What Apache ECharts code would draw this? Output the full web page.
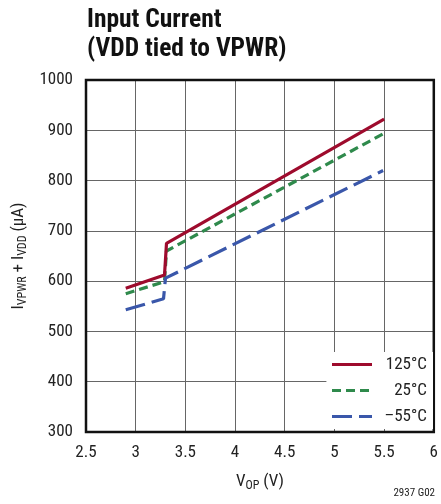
<!DOCTYPE html>
<html><head><meta charset="utf-8">
<script src="https://cdn.jsdelivr.net/npm/echarts@6/dist/echarts.min.js"></script>
<style>html,body{margin:0;padding:0;background:#fff}#c{width:441px;height:504px}</style>
</head><body><div id="c"></div>
<script>
const xTicks = [2.5, 3, 3.5, 4, 4.5, 5, 5.5, 6];
const yTicks = [300, 400, 500, 600, 700, 800, 900, 1000];
const seriesNames = ['125°C', '25°C', '–55°C'];
const hot_x = [2.9, 3.29, 3.31, 5.5];
const hot_y = [586, 612, 675, 922];
const room_x = [2.9, 3.29, 3.31, 5.5];
const room_y = [575, 599, 660, 894];
const cold_x = [2.9, 3.28, 3.3, 5.49];
const cold_y = [543, 565, 606, 820];

const font = 'Liberation Sans Narrow, Roboto Condensed, DejaVu Sans Condensed, Liberation Sans, sans-serif';
const pair = (xs, ys) => xs.map((x, i) => [x, ys[i]]);
const colors = ['#9e0b2d', '#2f8a4c', '#3a57aa'];
const dashes = ['solid', [9, 5], [20, 7]];
const chart = echarts.init(document.getElementById('c'), null, {renderer: 'canvas'});
chart.setOption({
  animation: false,
  backgroundColor: '#fff',
  title: {
    text: 'Input Current\n(VDD tied to VPWR)',
    left: 87, top: 6, padding: 0,
    textStyle: {fontFamily: font, fontWeight: 'bold', fontSize: 25.5, lineHeight: 29, color: '#111'}
  },
  grid: {left: 86, right: 4, top: 80, bottom: 72},
  xAxis: {
    type: 'value', min: 2.5, max: 6, interval: 0.5,
    axisLine: {show: false},
    axisTick: {show: false},
    axisLabel: {fontFamily: font, fontSize: 17, color: '#222', margin: 12,
      formatter: v => xTicks.includes(v) ? String(v) : ''},
    splitLine: {show: true, lineStyle: {color: '#666', width: 1}},
    name: '{a|V}{s|OP}{a| (V)}', nameLocation: 'middle', nameGap: 40,
    nameTextStyle: {rich: {a: {fontFamily: font, fontSize: 17, color: '#222'},
      s: {fontFamily: font, fontSize: 12, color: '#222', padding: [8, 0, 0, 0]}}}
  },
  yAxis: {
    type: 'value', min: 300, max: 1000, interval: 100,
    axisLine: {show: false},
    axisTick: {show: false},
    axisLabel: {fontFamily: font, fontSize: 17, color: '#222', margin: 13,
      formatter: v => yTicks.includes(v) ? String(v) : ''},
    splitLine: {show: true, lineStyle: {color: '#666', width: 1}},
    name: '{a|I}{s|VPWR}{a| + I}{s|VDD}{a| (µA)}', nameLocation: 'middle', nameGap: 54,
    nameTextStyle: {rich: {a: {fontFamily: font, fontSize: 17, color: '#222'},
      s: {fontFamily: font, fontSize: 12, color: '#222', padding: [8, 0, 0, 0]}}}
  },
  legend: {
    right: 8, top: 352, orient: 'vertical', align: 'left',
    backgroundColor: '#fff', padding: [4, 6, 4, 4],
    itemWidth: 40, itemHeight: 14, itemGap: 9,
    formatter: n => '{r|' + n + '}',
    textStyle: {fontFamily: font, fontSize: 17, color: '#222',
      rich: {r: {fontFamily: font, fontSize: 17, color: '#222', width: 50, align: 'right', padding: [0, 0, 0, 0]}}},
    data: seriesNames.map((n, i) => ({name: n,
      itemStyle: {opacity: 0},
      lineStyle: {color: colors[i], width: 3.2, type: dashes[i], cap: 'butt'}}))
  },
  series: [
    {name: seriesNames[0], type: 'line', data: pair(hot_x, hot_y), symbol: 'none',
      lineStyle: {color: colors[0], width: 3.2}, itemStyle: {color: colors[0]}, z: 3},
    {name: seriesNames[1], type: 'line', data: pair(room_x, room_y), symbol: 'none',
      lineStyle: {color: colors[1], width: 3.2, type: dashes[1]}, itemStyle: {color: colors[1]}, z: 2},
    {name: seriesNames[2], type: 'line', data: pair(cold_x, cold_y), symbol: 'none',
      lineStyle: {color: colors[2], width: 3.2, type: dashes[2]}, itemStyle: {color: colors[2]}, z: 2},
    {type: 'line', data: [], markArea: {silent: true, itemStyle: {color: 'transparent', borderColor: '#111', borderWidth: 2.5},
      data: [[{coord: [2.5, 300]}, {coord: [6, 1000]}]]}}
  ],
  graphic: [{type: 'text', right: 6, top: 488,
    style: {text: '2937 G02', font: '11px ' + font, fill: '#222'}}]
});
</script></body></html>
